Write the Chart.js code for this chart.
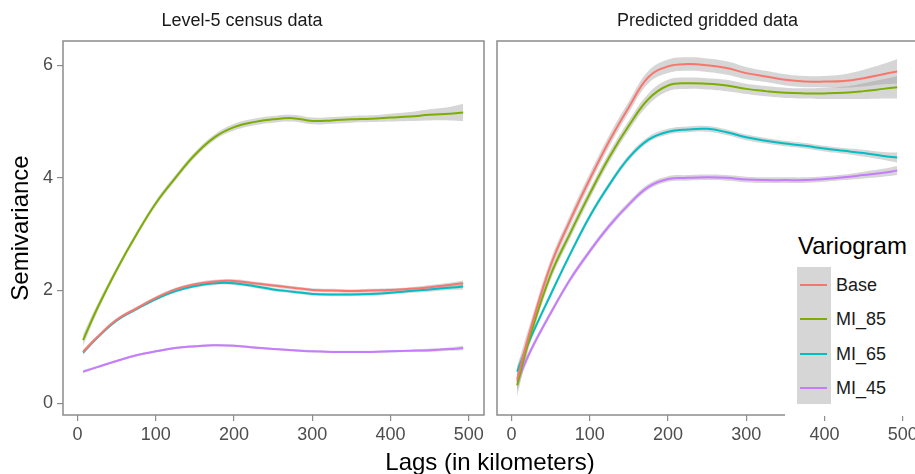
<!DOCTYPE html>
<html>
<head>
<meta charset="utf-8">
<script src="https://cdn.jsdelivr.net/npm/chart.js@4.4.1/dist/chart.umd.min.js"></script>
<style>
  body { margin: 0; background: #fff; font-family: "Liberation Sans", Arial, sans-serif; }
  #wrap { position: relative; width: 915px; height: 474px; overflow: hidden; }
  #leftBox { position: absolute; left: 0; top: 0; }
  #rightBox { position: absolute; left: 490px; top: 0; }
  #xtitle { position: absolute; left: 290px; width: 400px; top: 448px; line-height: 28px;
            font-size: 24px; text-align: center; color: #000; }
  #legend { position: absolute; left: 785px; top: 222px; width: 140px; height: 194px; background: #fff; }
  #legend .title { position: absolute; left: 13px; top: 10px; font-size: 24px; line-height: 28px; color: #000; }
  #legend .keys { position: absolute; left: 12px; top: 45px; width: 34px; height: 137px; background: #d6d6d6; }
  #legend .row { position: absolute; left: 12px; height: 34px; width: 128px; }
  #legend .row span.line { position: absolute; left: 3px; top: 16px; width: 27px; height: 2px; }
  #legend .row span.lab { position: absolute; left: 39px; top: 6px; font-size: 18px; line-height: 22px; color: #1a1a1a; }
</style>
</head>
<body>
<div id="wrap">
  <div id="leftBox"><canvas id="census" width="490" height="474"></canvas></div>
  <div id="rightBox"><canvas id="gridded" width="435" height="474"></canvas></div>
  <div id="xtitle">Lags (in kilometers)</div>
  <div id="legend"><div class="title">Variogram</div><div class="keys"></div></div>
</div>
<script>
const lags = [7, 25, 50, 75, 100, 125, 150, 175, 200, 225, 250, 275, 300, 325, 350, 375, 400, 425, 450, 475, 493];
const xTicks = [0, 100, 200, 300, 400, 500];
const yTicks = [0, 2, 4, 6];
const variograms = ['Base', 'MI_85', 'MI_65', 'MI_45'];
const colours = ['#F8766D', '#7CAE00', '#00BFC4', '#C77CFF'];

// Level-5 census data
const censusBase = [0.91, 1.17, 1.48, 1.68, 1.87, 2.02, 2.11, 2.16, 2.17, 2.13, 2.09, 2.05, 2.01, 2.00, 1.99, 2.00, 2.01, 2.03, 2.06, 2.10, 2.13];
const censusMI85 = [1.12, 1.68, 2.37, 2.99, 3.55, 4.00, 4.41, 4.72, 4.90, 4.99, 5.04, 5.06, 5.01, 5.02, 5.04, 5.05, 5.07, 5.09, 5.12, 5.14, 5.16];
const censusMI65 = [0.90, 1.16, 1.47, 1.67, 1.85, 1.99, 2.08, 2.13, 2.13, 2.08, 2.02, 1.98, 1.94, 1.93, 1.93, 1.94, 1.96, 1.99, 2.02, 2.05, 2.07];
const censusMI45 = [0.56, 0.64, 0.75, 0.85, 0.92, 0.98, 1.01, 1.03, 1.02, 0.99, 0.96, 0.94, 0.92, 0.91, 0.91, 0.91, 0.92, 0.93, 0.94, 0.96, 0.98];
const censusBaseSe = [0.04, 0.03, 0.03, 0.03, 0.03, 0.03, 0.03, 0.03, 0.03, 0.03, 0.03, 0.03, 0.03, 0.03, 0.03, 0.03, 0.03, 0.03, 0.04, 0.04, 0.05];
const censusMI85Se = [0.10, 0.07, 0.05, 0.05, 0.05, 0.05, 0.05, 0.05, 0.06, 0.06, 0.06, 0.06, 0.06, 0.06, 0.06, 0.06, 0.07, 0.08, 0.10, 0.12, 0.15];
const censusMI65Se = [0.04, 0.03, 0.03, 0.03, 0.03, 0.03, 0.03, 0.03, 0.03, 0.03, 0.03, 0.03, 0.03, 0.03, 0.03, 0.03, 0.03, 0.03, 0.04, 0.04, 0.05];
const censusMI45Se = [0.03, 0.02, 0.02, 0.02, 0.02, 0.02, 0.02, 0.02, 0.02, 0.02, 0.02, 0.02, 0.02, 0.02, 0.02, 0.02, 0.02, 0.02, 0.03, 0.03, 0.04];

// Predicted gridded data
const gridBase = [0.42, 1.35, 2.45, 3.25, 3.98, 4.66, 5.26, 5.79, 5.98, 6.02, 6.00, 5.95, 5.86, 5.80, 5.74, 5.71, 5.71, 5.72, 5.77, 5.84, 5.89];
const gridMI85 = [0.32, 1.25, 2.28, 3.02, 3.72, 4.37, 4.93, 5.40, 5.64, 5.68, 5.67, 5.64, 5.58, 5.54, 5.51, 5.50, 5.50, 5.51, 5.54, 5.58, 5.61];
const gridMI65 = [0.56, 1.18, 1.93, 2.65, 3.32, 3.88, 4.36, 4.68, 4.82, 4.86, 4.87, 4.81, 4.72, 4.66, 4.61, 4.57, 4.52, 4.48, 4.44, 4.39, 4.36];
const gridMI45 = [0.38, 0.95, 1.60, 2.20, 2.70, 3.15, 3.53, 3.84, 3.98, 4.00, 4.01, 4.00, 3.97, 3.96, 3.96, 3.96, 3.98, 4.01, 4.05, 4.09, 4.13];
const gridBaseSe = [0.22, 0.13, 0.10, 0.10, 0.10, 0.10, 0.10, 0.11, 0.12, 0.12, 0.12, 0.12, 0.11, 0.10, 0.10, 0.10, 0.10, 0.12, 0.15, 0.18, 0.22];
const gridMI85Se = [0.20, 0.12, 0.09, 0.09, 0.09, 0.09, 0.09, 0.10, 0.10, 0.10, 0.10, 0.10, 0.09, 0.09, 0.09, 0.09, 0.10, 0.11, 0.14, 0.17, 0.20];
const gridMI65Se = [0.10, 0.06, 0.05, 0.05, 0.05, 0.05, 0.05, 0.05, 0.05, 0.05, 0.05, 0.05, 0.05, 0.05, 0.05, 0.05, 0.05, 0.05, 0.06, 0.07, 0.09];
const gridMI45Se = [0.12, 0.06, 0.05, 0.05, 0.05, 0.05, 0.05, 0.05, 0.05, 0.05, 0.05, 0.05, 0.05, 0.05, 0.05, 0.05, 0.05, 0.05, 0.06, 0.07, 0.08];

Chart.defaults.font.family = "'Liberation Sans', Arial, sans-serif";

// ribbons (upper/lower pairs) first, then the smoothed lines on top
function panelDatasets(series, errors) {
  const bands = [], lines = [];
  series.forEach((ys, i) => {
    bands.push({
      data: lags.map((x, j) => ({ x: x, y: ys[j] + errors[i][j] })),
      borderWidth: 0, borderColor: 'rgba(0,0,0,0)', pointRadius: 0,
      fill: false, tension: 0.4, order: 2
    });
    bands.push({
      data: lags.map((x, j) => ({ x: x, y: ys[j] - errors[i][j] })),
      borderWidth: 0, borderColor: 'rgba(0,0,0,0)', pointRadius: 0,
      fill: '-1', backgroundColor: 'rgba(153,153,153,0.4)',
      tension: 0.4, order: 2
    });
    lines.push({
      label: variograms[i],
      data: lags.map((x, j) => ({ x: x, y: ys[j] })),
      borderColor: colours[i], borderWidth: 2, pointRadius: 0,
      fill: false, tension: 0.4, order: 1
    });
  });
  return bands.concat(lines);
}

const panelBorder = {
  id: 'panelBorder',
  afterDraw(chart) {
    const { ctx, chartArea: a } = chart;
    ctx.save();
    ctx.strokeStyle = '#8c8c8c';
    ctx.lineWidth = 1.5;
    ctx.strokeRect(a.left, a.top, a.right - a.left, a.bottom - a.top);
    ctx.restore();
  }
};

function panelOptions(title, showY, padding) {
  return {
    responsive: false,
    animation: false,
    layout: { padding: padding },
    plugins: {
      legend: { display: false },
      tooltip: { enabled: false },
      title: {
        display: true, text: title, color: '#1a1a1a',
        font: { size: 18, weight: 'normal' }, padding: { top: 10, bottom: 9.4 }
      }
    },
    scales: {
      x: {
        type: 'linear', min: -18.7, max: 519.6,
        afterBuildTicks: s => { s.ticks = xTicks.map(v => ({ value: v })); },
        afterFit: s => { s.height = 59; },
        border: { display: false },
        grid: { drawOnChartArea: false, tickLength: 6, color: '#8c8c8c', lineWidth: 1.2 },
        ticks: { color: '#4d4d4d', font: { size: 18 }, padding: 3, maxRotation: 0 }
      },
      y: {
        display: showY,
        min: -0.21, max: 6.43,
        afterBuildTicks: s => { s.ticks = yTicks.map(v => ({ value: v })); },
        afterFit: s => { s.width = showY ? 63 : 0; },
        border: { display: false },
        grid: { drawOnChartArea: false, tickLength: 6, color: '#8c8c8c', lineWidth: 1.2 },
        ticks: { color: '#4d4d4d', font: { size: 18 }, padding: 4 },
        title: {
          display: true, text: 'Semivariance', color: '#000',
          font: { size: 24 }, padding: { top: 6.6, bottom: 0 }
        }
      }
    }
  };
}

new Chart(document.getElementById('census'), {
  type: 'line',
  data: {
    datasets: panelDatasets(
      [censusBase, censusMI85, censusMI65, censusMI45],
      [censusBaseSe, censusMI85Se, censusMI65Se, censusMI45Se])
  },
  options: panelOptions('Level-5 census data', true, { left: 0, right: 6, top: 0, bottom: 0 }),
  plugins: [panelBorder]
});

new Chart(document.getElementById('gridded'), {
  type: 'line',
  data: {
    datasets: panelDatasets(
      [gridBase, gridMI85, gridMI65, gridMI45],
      [gridBaseSe, gridMI85Se, gridMI65Se, gridMI45Se])
  },
  options: panelOptions('Predicted gridded data', false, { left: 7, right: 7, top: 0, bottom: 0 }),
  plugins: [panelBorder]
});

// legend keys
const legend = document.getElementById('legend');
variograms.forEach((name, i) => {
  const row = document.createElement('div');
  row.className = 'row';
  row.style.top = (46 + i * 34.4) + 'px';
  row.innerHTML = '<span class="line" style="background:' + colours[i] + '"></span><span class="lab">' + name + '</span>';
  legend.appendChild(row);
});
</script>
</body>
</html>
